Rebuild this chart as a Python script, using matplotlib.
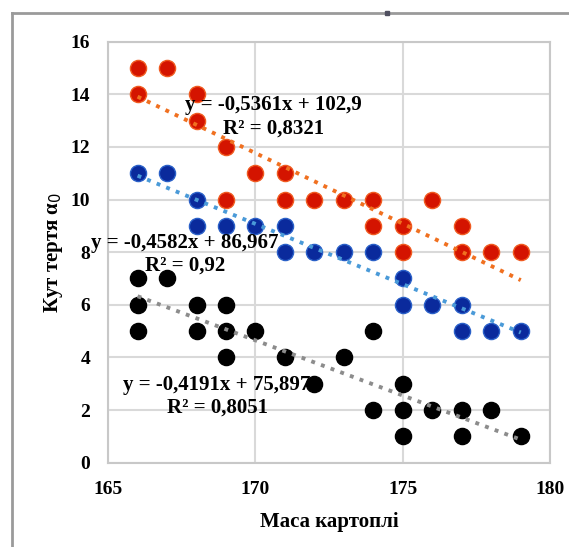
import matplotlib.pyplot as plt
from matplotlib.lines import Line2D
import numpy as np

plt.rcParams['font.family'] = ['Liberation Serif', 'DejaVu Serif']

# ---------- дані ----------
red_x = [166, 166, 167, 168, 168, 169, 169, 170, 171, 171, 172, 173, 174, 174, 175, 175, 176, 177, 177, 178, 179]
red_y = [15, 14, 15, 14, 13, 12, 10, 11, 11, 10, 10, 10, 10, 9, 9, 8, 10, 9, 8, 8, 8]

blue_x = [166, 167, 168, 168, 169, 170, 171, 171, 172, 173, 174, 175, 175, 176, 177, 177, 178, 179]
blue_y = [11, 11, 10, 9, 9, 9, 9, 8, 8, 8, 8, 7, 6, 6, 6, 5, 5, 5]

black_x = [166, 166, 166, 167, 168, 168, 169, 169, 169, 170, 171, 172, 173, 174, 174, 175, 175, 175, 176, 177, 177, 178, 179]
black_y = [7, 6, 5, 7, 6, 5, 6, 5, 4, 5, 4, 3, 4, 5, 2, 3, 2, 1, 2, 2, 1, 2, 1]

# коефіцієнти ліній тренду (з підписів)
red_fit = (-0.5361, 102.9)
blue_fit = (-0.4582, 86.967)
black_fit = (-0.4191, 75.897)

red_lbl = "y = -0,5361x + 102,9\nR² = 0,8321"
blue_lbl = "y = -0,4582x + 86,967\nR² = 0,92"
black_lbl = "y = -0,4191x + 75,897\nR² = 0,8051"

x_ticks = [165, 170, 175, 180]
y_ticks = [0, 2, 4, 6, 8, 10, 12, 14, 16]

# ---------- полотно ----------
fig = plt.figure(figsize=(5.69, 5.47), dpi=100)
ax = fig.add_axes([0.19, 0.154, 0.777, 0.77])

# рамка області діаграми
fig.add_artist(Line2D([12 / 569, 1.0], [1 - 13 / 547, 1 - 13 / 547], color='#9a9a9a', lw=2,
                      transform=fig.transFigure))
fig.add_artist(Line2D([12 / 569, 12 / 569], [0, 1 - 13 / 547], color='#9a9a9a', lw=2,
                      transform=fig.transFigure))
fig.add_artist(Line2D([387 / 569], [1 - 13 / 547], marker='s', ms=3, color='#505060',
                      transform=fig.transFigure))

ax.set_xlim(165, 180)
ax.set_ylim(0, 16)
ax.set_xticks(x_ticks)
ax.set_yticks(y_ticks)
ax.grid(True, color='#d9d9d9', lw=1.5)
ax.set_axisbelow(True)
for s in ax.spines.values():
    s.set_color('#c8c8c8')
    s.set_linewidth(1.5)
ax.tick_params(length=0, labelsize=14, pad=13)
for lab in ax.get_xticklabels() + ax.get_yticklabels():
    lab.set_fontweight('bold')

# ---------- точки ----------
ax.scatter(red_x, red_y, s=135, color='#d41400', edgecolors='#f05a20', linewidths=1, zorder=3)
ax.scatter(blue_x, blue_y, s=135, color='#0a2a9c', edgecolors='#2a60c8', linewidths=1, zorder=3)
ax.scatter(black_x, black_y, s=135, color='#000000', zorder=3)

# ---------- лінії тренду ----------
xs = np.array([166, 179])
ax.plot(xs, red_fit[0] * xs + red_fit[1], ls=':', lw=2.8, color='#f07020', zorder=4)
ax.plot(xs, blue_fit[0] * xs + blue_fit[1], ls=':', lw=2.8, color='#4a9ad8', zorder=4)
ax.plot(xs, black_fit[0] * xs + black_fit[1], ls=':', lw=2.8, color='#8c8c8c', zorder=4)

# ---------- підписи рівнянь ----------
txt = dict(ha='center', va='center', fontsize=15, fontweight='bold', linespacing=1.2, zorder=5)
ax.text(170.6, 13.15, red_lbl, **txt)
ax.text(167.6, 7.93, blue_lbl, **txt)
ax.text(168.7, 2.53, black_lbl, **txt)

ax.set_xlabel('Маса картоплі', fontsize=15, fontweight='bold', labelpad=10)
ax.set_ylabel('Кут тертя α$_0$', fontsize=15, fontweight='bold', labelpad=4)

plt.savefig('out.png', dpi=100)
plt.close()
